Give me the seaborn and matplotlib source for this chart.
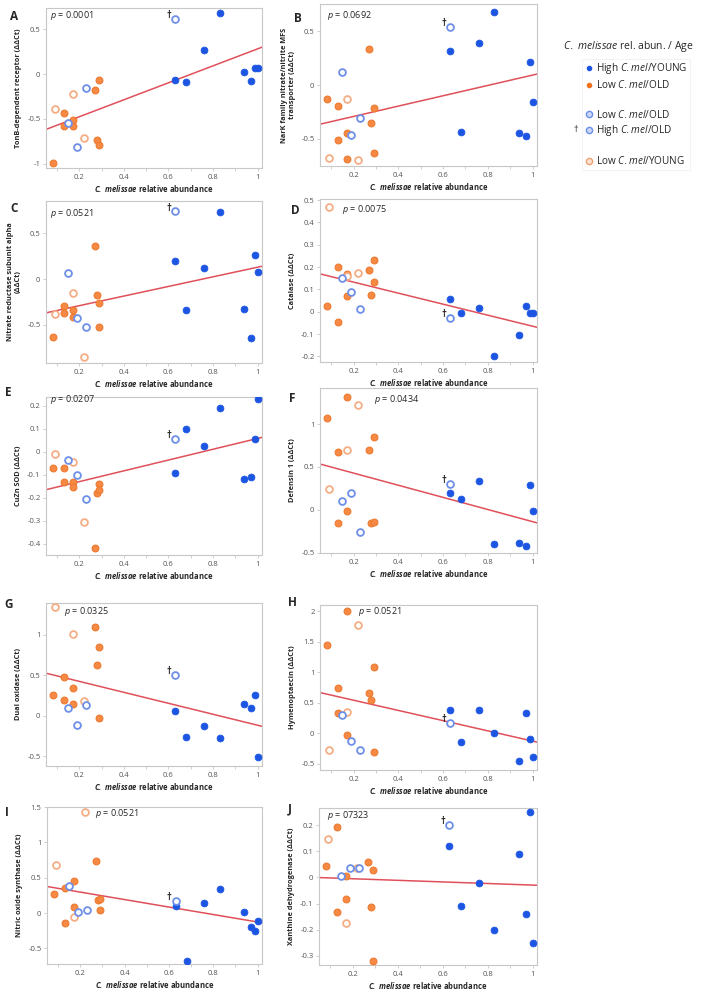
import numpy as np
import pandas as pd
import matplotlib
matplotlib.use("Agg")
import matplotlib.pyplot as plt
from matplotlib.lines import Line2D
from matplotlib.ticker import FuncFormatter, MultipleLocator
import seaborn as sns

sns.set_style("white")
plt.rcParams["font.family"] = ["Open Sans", "DejaVu Sans"]
plt.rcParams["mathtext.fontset"] = "custom"
plt.rcParams["mathtext.it"] = "Open Sans:italic"
plt.rcParams["mathtext.bfit"] = "Open Sans:italic:bold"
plt.rcParams["axes.unicode_minus"] = False

# ── sample layout: same bees in every panel ─────────────────────────────────
# order: High/YOUNG (8), Low/OLD filled (9), Low/OLD open (3), High/OLD † (1), Low/YOUNG (3)
abundance = [0.63, 0.68, 0.76, 0.83, 0.94, 0.97, 0.99, 1.00,
             0.08, 0.13, 0.13, 0.17, 0.17, 0.27, 0.28, 0.29, 0.29,
             0.15, 0.19, 0.23,
             0.63,
             0.09, 0.17, 0.22]
groups = ["hy"] * 8 + ["lo"] * 9 + ["lob"] * 3 + ["ho"] + ["ly"] * 3

# ── ΔΔCt per gene, same order as abundance ──────────────────────────────────
tonb = [-0.07, -0.09, 0.27, 0.68, 0.02, -0.08, 0.07, 0.07,
        -0.99, -0.43, -0.58, -0.51, -0.58, -0.18, -0.74, -0.79, -0.07,
        -0.55, -0.81, -0.16, 0.62, -0.39, -0.22, -0.71]
nark = [0.32, -0.44, 0.39, 0.68, -0.45, -0.48, 0.21, -0.16,
        -0.13, -0.20, -0.51, -0.45, -0.69, 0.34, -0.35, -0.21, -0.63,
        0.12, -0.47, -0.31, 0.54, -0.68, -0.13, -0.70]
nitrate_red = [0.20, -0.34, 0.12, 0.73, -0.33, -0.65, 0.26, 0.08,
               -0.63, -0.29, -0.37, -0.34, -0.42, 0.36, -0.17, -0.26, -0.53,
               0.07, -0.43, -0.53, 0.74, -0.38, -0.15, -0.85]
catalase = [0.055, -0.005, 0.015, -0.20, -0.105, 0.025, -0.005, -0.005,
            0.024, 0.20, -0.048, 0.167, 0.07, 0.185, 0.073, 0.23, 0.133,
            0.15, 0.087, 0.013, -0.03, 0.467, 0.16, 0.175]
cuzn_sod = [-0.093, 0.098, 0.022, 0.19, -0.12, -0.11, 0.055, 0.23,
            -0.072, -0.072, -0.133, -0.133, -0.156, -0.42, -0.18, -0.143, -0.168,
            -0.037, -0.10, -0.207, 0.055, -0.009, -0.046, -0.305]
defensin = [0.20, 0.12, 0.33, -0.40, -0.39, -0.42, 0.29, -0.02,
            1.07, 0.675, -0.15, 1.32, -0.015, 0.70, -0.15, 0.85, -0.14,
            0.105, 0.19, -0.26, 0.30, 0.24, 0.70, 1.22]
duox = [0.055, -0.26, -0.13, -0.27, 0.14, 0.09, 0.25, -0.51,
        0.25, 0.48, 0.20, 0.34, 0.15, 1.09, 0.62, 0.85, -0.03,
        0.095, -0.12, 0.13, 0.50, 1.34, 1.01, 0.18]
hymenoptaecin = [0.38, -0.14, 0.38, 0.0, -0.45, 0.33, -0.09, -0.38,
                 1.44, 0.74, 0.34, 2.0, -0.02, 0.66, 0.54, 1.08, -0.31,
                 0.30, -0.12, -0.27, 0.17, -0.28, 0.35, 1.77]
nos = [0.10, -0.68, 0.14, 0.34, 0.02, -0.19, -0.25, -0.11,
       0.27, 0.35, -0.14, 0.45, 0.09, 0.73, 0.19, 0.20, 0.05,
       0.38, 0.02, 0.04, 0.17, 0.68, -0.06, 1.43]
xdh = [0.12, -0.11, -0.02, -0.20, 0.09, -0.14, 0.25, -0.25,
       0.045, 0.194, -0.133, 0.004, -0.082, 0.059, -0.112, 0.027, -0.32,
       0.005, 0.036, 0.036, 0.20, 0.146, -0.176, 0.036]

panel_letters = ["A", "B", "C", "D", "E", "F", "G", "H", "I", "J"]
gene_labels = ["TonB-dependent receptor (ΔΔCt)",
               "NarK family nitrate/nitrite MFS\ntransporter (ΔΔCt)",
               "Nitrate reductase subunit alpha\n(ΔΔCt)",
               "Catalase (ΔΔCt)",
               "CuZn SOD (ΔΔCt)",
               "Defensin 1 (ΔΔCt)",
               "Dual oxidase (ΔΔCt)",
               "Hymenoptaecin (ΔΔCt)",
               "Nitric oxide synthase (ΔΔCt)",
               "Xanthine dehydrogenase (ΔΔCt)"]
p_values = ["0.0001", "0.0692", "0.0521", "0.0075", "0.0207",
            "0.0434", "0.0325", "0.0521", "0.0521", "07323"]
panel_data = [tonb, nark, nitrate_red, catalase, cuzn_sod,
              defensin, duox, hymenoptaecin, nos, xdh]

# ── layout (pixels in the 718x991 figure) ───────────────────────────────────
W, H = 718, 991
boxes = [(46, 8, 262, 168), (320, 4, 537, 166),
         (46, 201, 262, 363), (320, 199, 537, 362),
         (46, 397, 262, 555), (320, 388, 537, 553),
         (46, 603, 262, 766), (320, 605, 537, 770),
         (47, 807, 262, 964), (319, 808, 537, 965)]
ylims = [(-1.05, 0.74), (-0.755, 0.755), (-0.92, 0.855), (-0.225, 0.505),
         (-0.45, 0.237), (-0.505, 1.42), (-0.62, 1.39), (-0.6, 2.1),
         (-0.72, 1.5), (-0.335, 0.265)]
yticks = [[-1, -0.5, 0, 0.5], [-0.5, 0, 0.5], [-0.5, 0, 0.5],
          np.arange(-0.2, 0.51, 0.1), np.arange(-0.4, 0.21, 0.1),
          [-0.5, 0, 0.5, 1], [-0.5, 0, 0.5, 1], np.arange(-0.5, 2.01, 0.5),
          [-0.5, 0, 0.5, 1, 1.5], np.arange(-0.3, 0.21, 0.1)]
letter_pos = [(10, 16), (294, 19), (10, 208), (291, 210), (5, 393),
              (289, 398), (4, 605), (288, 603), (5, 812), (288, 809)]
p_pos = [(50, 16), (327, 15), (50, 213), (342, 210), (50, 400),
         (374, 399), (64, 611), (358, 612), (95, 813), (327, 815)]

styles = {
    "hy": dict(color="#1d55e3", edgecolor="#1d55e3", linewidth=0.6),
    "lo": dict(color="#f68a45", edgecolor="#ee7a30", linewidth=0.8),
    "lob": dict(color="#6d8fe8", facecolor="white", edgecolor="#6d8fe8", linewidth=1.3),
    "ho": dict(color="#6d8fe8", facecolor="white", edgecolor="#6d8fe8", linewidth=1.3),
    "ly": dict(color="#f5ad85", facecolor="white", edgecolor="#f5ad85", linewidth=1.3),
}
fit_color = "#e0505a"
spine_color = "#c8c8c8"
tick_color = "#555555"


def tick_fmt(v, _):
    v = round(v, 6)
    if v == 0:
        return "0"
    return f"{v:g}"


fig = plt.figure(figsize=(W / 100, H / 100), dpi=100)
fmt = FuncFormatter(tick_fmt)

for i, yvals in enumerate(panel_data):
    l, t, r, b = boxes[i]
    ax = fig.add_axes([l / W, 1 - b / H, (r - l) / W, (b - t) / H])
    df = pd.DataFrame({"x": abundance, "y": yvals, "group": groups})

    ax.set_xlim(0.05, 1.02)
    ax.set_ylim(*ylims[i])

    # linear fit across all bees
    sns.regplot(data=df, x="x", y="y", ax=ax, scatter=False, ci=None,
                truncate=False, line_kws=dict(color=fit_color, lw=1.1, zorder=2))

    for g in ["lo", "ly", "lob", "hy", "ho"]:
        sub = df[df["group"] == g]
        sns.scatterplot(data=sub, x="x", y="y", ax=ax, s=24, zorder=3,
                        legend=False, **styles[g])

    ho = df[df["group"] == "ho"].iloc[0]
    ax.annotate("†", xy=(ho["x"], ho["y"]), xytext=(-4.5, 2.5),
                textcoords="offset points", ha="center", va="center",
                fontsize=7, fontweight="bold", color="#222222")

    ax.set_xticks([0.2, 0.4, 0.6, 0.8, 1.0])
    ax.xaxis.set_minor_locator(MultipleLocator(0.1))
    ax.set_yticks(yticks[i])
    ax.xaxis.set_major_formatter(fmt)
    ax.yaxis.set_major_formatter(fmt)
    ax.tick_params(axis="both", which="both", direction="out", length=2.5,
                   width=0.6, color=spine_color, labelsize=5.5,
                   labelcolor=tick_color, pad=1.5, bottom=True, left=True)
    ax.tick_params(axis="x", which="minor", length=2)
    for sp in ax.spines.values():
        sp.set_color(spine_color)
        sp.set_linewidth(0.8)

    ax.set_xlabel(r"$\mathbfit{C.\ melissae}$ relative abundance",
                  fontsize=5.5, fontweight="bold", labelpad=2)
    ax.set_ylabel(gene_labels[i], fontsize=5.3, fontweight="bold",
                  labelpad=4, linespacing=1.1)

    lx, ly = letter_pos[i]
    fig.text(lx / W, 1 - ly / H, panel_letters[i], fontsize=8.5,
             fontweight="bold", ha="left", va="center")
    px, py = p_pos[i]
    fig.text(px / W, 1 - py / H, r"$\mathit{p}$ = " + p_values[i],
             fontsize=6.5, ha="left", va="center")

# ── legend ──────────────────────────────────────────────────────────────────
fig.text(563 / W, 1 - 47 / H, r"$\mathit{C.\ melissae}$ rel. abun. / Age",
         fontsize=7.5, ha="left", va="center")

blank = Line2D([], [], linestyle="none")
handles = [
    Line2D([], [], marker="o", linestyle="none", markersize=3,
           markerfacecolor="#1d55e3", markeredgecolor="#1d55e3"),
    Line2D([], [], marker="o", linestyle="none", markersize=3,
           markerfacecolor="#f07020", markeredgecolor="#f07020"),
    blank,
    Line2D([], [], marker="o", linestyle="none", markersize=4.5,
           markerfacecolor="#c9d6f6", markeredgecolor="#6d8fe8", markeredgewidth=1.0),
    Line2D([], [], marker="o", linestyle="none", markersize=4.5,
           markerfacecolor="#c9d6f6", markeredgecolor="#6d8fe8", markeredgewidth=1.0),
    blank,
    Line2D([], [], marker="o", linestyle="none", markersize=4.5,
           markerfacecolor="#fbe2d2", markeredgecolor="#f0a070", markeredgewidth=1.0),
]
labels = [r"High $\mathit{C.mel}$/YOUNG", r"Low $\mathit{C.mel}$/OLD", "",
          r"Low $\mathit{C.mel}$/OLD", r"High $\mathit{C.mel}$/OLD", "",
          r"Low $\mathit{C.mel}$/YOUNG"]
leg = fig.legend(handles, labels, loc="upper left",
                 bbox_to_anchor=(577 / W, 1 - 54 / H), frameon=True,
                 fontsize=7.2, handlelength=0.8, handletextpad=0.4,
                 labelspacing=0.3, borderpad=0.25, fancybox=False)
leg.get_frame().set_edgecolor("#f0f0f0")
leg.get_frame().set_linewidth(0.8)
fig.canvas.draw()

# dagger next to the High/OLD legend marker
bb = leg.get_texts()[4].get_window_extent()
fig.text(576 / W, (bb.y0 + bb.y1) / 2 / fig.bbox.height + 2 / H, "†",
         fontsize=6.5, ha="center", va="center")

fig.savefig("out.png", dpi=100)
